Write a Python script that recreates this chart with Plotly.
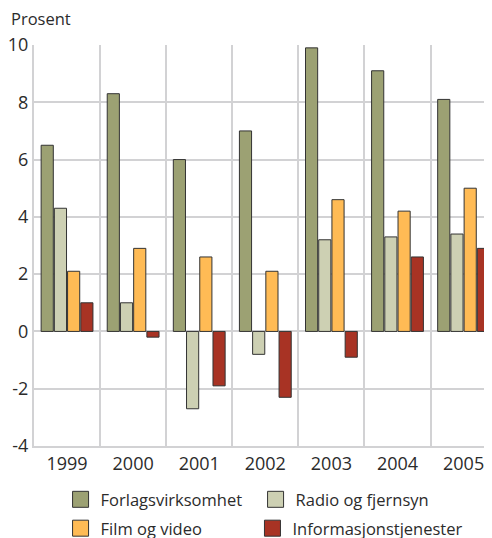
import plotly.graph_objects as go

years = ["1999", "2000", "2001", "2002", "2003", "2004", "2005"]
forlag = [6.5, 8.3, 6.0, 7.0, 9.9, 9.1, 8.1]
radio = [4.3, 1.0, -2.7, -0.8, 3.2, 3.3, 3.4]
film = [2.1, 2.9, 2.6, 2.1, 4.6, 4.2, 5.0]
info = [1.0, -0.2, -1.9, -2.3, -0.9, 2.6, 2.9]

names = ["Forlagsvirksomhet", "Radio og fjernsyn", "Film og video", "Informasjonstjenester"]
colors = ["#9ca173", "#cdd0b3", "#ffbb55", "#a83324"]
series = [forlag, radio, film, info]
y_ticks = [-4, -2, 0, 2, 4, 6, 8, 10]
y_ticktext = ["-4", "-2", "0", "2", "4", "6", "8", "10"]

FONT = "Open Sans"
TXT = "#2b2b2b"
GRID = "#d2d2d4"
FS = 16.5
TFS = 18

fig = go.Figure()
for name, col, vals in zip(names, colors, series):
    fig.add_trace(go.Bar(
        x=years, y=vals, name=name, showlegend=False,
        marker=dict(color=col, line=dict(color="#333333", width=1)),
    ))

legend_ids = ["legend", "legend", "legend2", "legend3"]
for name, col, lg in zip(names, colors, legend_ids):
    fig.add_trace(go.Scatter(
        x=[None], y=[None], mode="markers", name=name, legend=lg,
        marker=dict(symbol="square", size=16, color=col,
                    line=dict(color="#333333", width=1)),
    ))

legend_common = dict(
    orientation="h", xanchor="left", yanchor="top",
    font=dict(family=FONT, size=FS, color=TXT),
    bgcolor="rgba(0,0,0,0)", itemwidth=30,
)

fig.update_layout(
    width=484, height=530,
    margin=dict(l=25.5, r=0, t=37, b=92, autoexpand=False),
    plot_bgcolor="white", paper_bgcolor="white",
    font=dict(family=FONT, size=FS, color=TXT),
    barmode="group", bargap=0.2, bargroupgap=0.08,
    xaxis=dict(
        type="category", range=[-0.5, 6.43], tickson="boundaries",
        showgrid=True, gridcolor=GRID, gridwidth=2,
        showline=True, linecolor=GRID, linewidth=2,
        ticks="", tickfont=dict(family=FONT, size=TFS, color=TXT),
        fixedrange=True,
    ),
    yaxis=dict(
        range=[-4, 10], tickvals=y_ticks, ticktext=y_ticktext,
        showgrid=True, gridcolor=GRID, gridwidth=2,
        zeroline=False,
        showline=True, linecolor=GRID, linewidth=2,
        ticks="", tickfont=dict(family=FONT, size=TFS, color=TXT),
    ),
    legend=dict(x=0.058, y=-0.09, entrywidth=150, entrywidthmode="pixels",
                **legend_common),
    legend2=dict(x=0.058, y=-0.162, **legend_common),
    legend3=dict(x=0.477, y=-0.162, **legend_common),
    annotations=[dict(
        text="Prosent", xref="paper", yref="paper", x=-0.0556, y=1.065,
        xanchor="left", yanchor="middle", showarrow=False,
        font=dict(family=FONT, size=FS, color=TXT),
    )],
)

fig.write_html("out.html")
